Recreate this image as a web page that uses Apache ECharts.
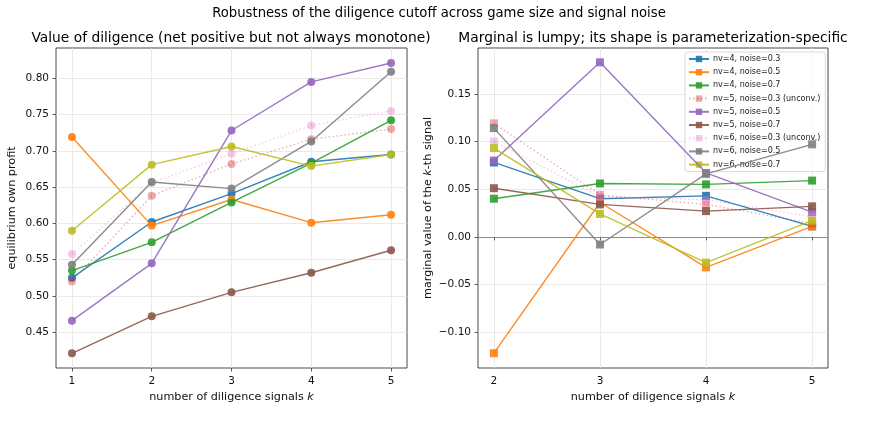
<!DOCTYPE html>
<html>
<head>
<meta charset="utf-8">
<script src="https://cdn.jsdelivr.net/npm/echarts@6/dist/echarts.min.js"></script>
<style>
  html, body { margin: 0; padding: 0; background: #fff; }
  #chart { width: 878px; height: 434px; }
</style>
</head>
<body>
<div id="chart"></div>
<script>
// number of diligence signals
const kProfit = [1, 2, 3, 4, 5]
const kMarginal = [2, 3, 4, 5]

const seriesNames = [
  'nv=4, noise=0.3',
  'nv=4, noise=0.5',
  'nv=4, noise=0.7',
  'nv=5, noise=0.3 (unconv.)',
  'nv=5, noise=0.5',
  'nv=5, noise=0.7',
  'nv=6, noise=0.3 (unconv.)',
  'nv=6, noise=0.5',
  'nv=6, noise=0.7'
]

// equilibrium own profit (left panel)
const profitNv4N03 = [0.525, 0.602, 0.641, 0.685, 0.695]
const profitNv4N05 = [0.719, 0.597, 0.633, 0.601, 0.612]
const profitNv4N07 = [0.535, 0.574, 0.629, 0.683, 0.742]
const profitNv5N03 = [0.520, 0.638, 0.682, 0.716, 0.730]
const profitNv5N05 = [0.466, 0.545, 0.728, 0.795, 0.821]
const profitNv5N07 = [0.421, 0.472, 0.505, 0.532, 0.563]
const profitNv6N03 = [0.558, 0.656, 0.696, 0.735, 0.755]
const profitNv6N05 = [0.543, 0.657, 0.648, 0.713, 0.809]
const profitNv6N07 = [0.590, 0.681, 0.706, 0.679, 0.695]

// marginal value of the k-th signal (right panel)
const marginalNv4N03 = [0.078, 0.040, 0.043, 0.011]
const marginalNv4N05 = [-0.122, 0.036, -0.032, 0.011]
const marginalNv4N07 = [0.040, 0.056, 0.055, 0.059]
const marginalNv5N03 = [0.119, 0.044, 0.034, 0.014]
const marginalNv5N05 = [0.080, 0.183, 0.067, 0.026]
const marginalNv5N07 = [0.051, 0.034, 0.027, 0.032]
const marginalNv6N03 = [0.100, 0.042, 0.039, 0.021]
const marginalNv6N05 = [0.114, -0.008, 0.066, 0.097]
const marginalNv6N07 = [0.093, 0.024, -0.027, 0.017]

const profitSets = [profitNv4N03, profitNv4N05, profitNv4N07, profitNv5N03, profitNv5N05,
  profitNv5N07, profitNv6N03, profitNv6N05, profitNv6N07]
const marginalSets = [marginalNv4N03, marginalNv4N05, marginalNv4N07, marginalNv5N03, marginalNv5N05,
  marginalNv5N07, marginalNv6N03, marginalNv6N05, marginalNv6N07]

// tick labels
const xTicksProfit = [1, 2, 3, 4, 5]
const yTicksProfit = [0.45, 0.50, 0.55, 0.60, 0.65, 0.70, 0.75, 0.80]
const xTicksMarginal = [2, 3, 4, 5]
const yTicksMarginal = [-0.10, -0.05, 0.00, 0.05, 0.10, 0.15]
const zeroLine = 0

// styles
const palette = ['#1f77b4', '#ff7f0e', '#2ca02c', '#d62728', '#9467bd',
  '#8c564b', '#e377c2', '#7f7f7f', '#bcbd22']
const unconverged = [3, 6]
const font = 'DejaVu Sans'
const tickSize = 10.5
const labelSize = 11.2

const fmt = (v) => (v < 0 ? '\u2212' + Math.abs(v).toFixed(2) : v.toFixed(2))

const chart = echarts.init(document.getElementById('chart'), null, { renderer: 'canvas' })

const makeSeries = (idx, panel) => {
  const dotted = unconverged.includes(idx)
  const op = dotted ? 0.4 : 0.9
  const k = panel === 0 ? kProfit : kMarginal
  const vals = panel === 0 ? profitSets[idx] : marginalSets[idx]
  return {
    name: seriesNames[idx],
    type: 'line',
    xAxisIndex: panel,
    yAxisIndex: panel,
    data: k.map((x, j) => [x, vals[j]]),
    symbol: panel === 0 ? 'circle' : 'rect',
    symbolSize: 8,
    showSymbol: true,
    lineStyle: {
      color: palette[idx],
      width: 1.4,
      type: dotted ? [1.4, 2.6] : 'solid',
      opacity: op
    },
    itemStyle: { color: palette[idx], opacity: op, borderWidth: 0 },
    emphasis: { disabled: true },
    z: 3 + idx
  }
}

// right-panel series first so the legend takes its square markers
const series = []
seriesNames.forEach((_, i) => series.push(makeSeries(i, 1)))
seriesNames.forEach((_, i) => series.push(makeSeries(i, 0)))
series[0].markLine = {
  silent: true,
  symbol: 'none',
  label: { show: false },
  lineStyle: { color: '#8a8a8a', width: 1, type: 'solid' },
  data: [{ yAxis: zeroLine }],
  z: 2
}

const axisCommon = {
  axisLine: { show: false },
  axisTick: { show: true, inside: false, length: 3.5, lineStyle: { color: '#333', width: 0.8 } },
  splitLine: { show: true, lineStyle: { color: '#e5e5e5', width: 0.8 } },
  nameTextStyle: {
    fontFamily: font, fontSize: labelSize, color: '#111',
    rich: { i: { fontFamily: font, fontSize: labelSize, fontStyle: 'italic', color: '#111' } }
  }
}

const titleStyle = (size) => ({ fontFamily: font, fontSize: size, fontWeight: 'normal', color: '#000' })

const option = {
  animation: false,
  backgroundColor: '#fff',
  textStyle: { fontFamily: font },
  title: [
    {
      text: 'Robustness of the diligence cutoff across game size and signal noise',
      left: 439, top: 7, textAlign: 'center', padding: 0,
      textStyle: titleStyle(13.2)
    },
    {
      text: 'Value of diligence (net positive but not always monotone)',
      left: 231, top: 31, textAlign: 'center', padding: 0,
      textStyle: titleStyle(13.8)
    },
    {
      text: 'Marginal is lumpy; its shape is parameterization-specific',
      left: 653, top: 31, textAlign: 'center', padding: 0,
      textStyle: titleStyle(13.8)
    }
  ],
  legend: {
    data: seriesNames,
    orient: 'vertical',
    left: 685,
    top: 52,
    itemWidth: 20,
    itemHeight: 8,
    itemGap: 5.2,
    padding: [3, 5, 3, 3],
    backgroundColor: 'rgba(255,255,255,0.8)',
    borderColor: '#d0d0d0',
    borderWidth: 0.8,
    borderRadius: 3,
    selectedMode: false,
    textStyle: { fontFamily: font, fontSize: 8, color: '#222', padding: [0, 0, 0, -1] }
  },
  grid: [
    { left: 56, top: 48, width: 351, height: 320, show: true, borderColor: '#333', borderWidth: 0.9, backgroundColor: 'transparent' },
    { left: 478, top: 48, width: 350, height: 320, show: true, borderColor: '#333', borderWidth: 0.9, backgroundColor: 'transparent' }
  ],
  xAxis: [
    {
      ...axisCommon,
      type: 'value', gridIndex: 0, min: 0.8, max: 5.2,
      name: 'number of diligence signals {i|k}', nameLocation: 'middle', nameGap: 24,
      axisTick: { ...axisCommon.axisTick, customValues: xTicksProfit },
      axisLabel: { customValues: xTicksProfit, fontFamily: font, fontSize: tickSize, color: '#111', margin: 8, formatter: (v) => String(v) }
    },
    {
      ...axisCommon,
      type: 'value', gridIndex: 1, min: 1.85, max: 5.15,
      name: 'number of diligence signals {i|k}', nameLocation: 'middle', nameGap: 24,
      axisTick: { ...axisCommon.axisTick, customValues: xTicksMarginal },
      axisLabel: { customValues: xTicksMarginal, fontFamily: font, fontSize: tickSize, color: '#111', margin: 8, formatter: (v) => String(v) }
    }
  ],
  yAxis: [
    {
      ...axisCommon,
      type: 'value', gridIndex: 0, min: 0.4008, max: 0.8417,
      name: 'equilibrium own profit', nameLocation: 'middle', nameGap: 38,
      axisTick: { ...axisCommon.axisTick, customValues: yTicksProfit },
      axisLabel: { customValues: yTicksProfit, fontFamily: font, fontSize: tickSize, color: '#111', margin: 7, formatter: fmt }
    },
    {
      ...axisCommon,
      type: 'value', gridIndex: 1, min: -0.1375, max: 0.198,
      name: 'marginal value of the {i|k}-th signal', nameLocation: 'middle', nameGap: 44,
      axisTick: { ...axisCommon.axisTick, customValues: yTicksMarginal },
      axisLabel: { customValues: yTicksMarginal, fontFamily: font, fontSize: tickSize, color: '#111', margin: 7, formatter: fmt }
    }
  ],
  series
}

chart.setOption(option)
window.addEventListener('resize', () => {
  chart.resize()
})
</script>
</body>
</html>
